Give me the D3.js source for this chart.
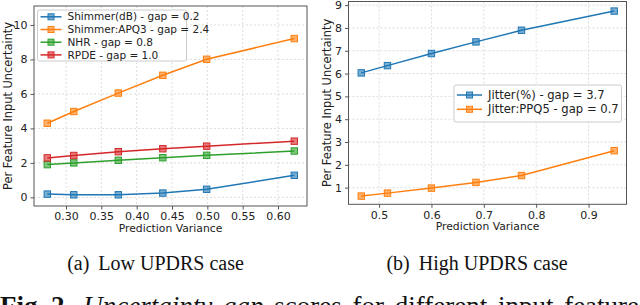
<!DOCTYPE html>
<html>
<head>
<meta charset="utf-8">
<script src="https://cdn.jsdelivr.net/npm/d3@7"></script>
<style>
  body { margin: 0; background: #fff; overflow: hidden; }
  svg text { font-family: "DejaVu Sans", sans-serif; }
</style>
</head>
<body>
<script>
// ---- data ----
const lowVariance = [0.2735, 0.311, 0.374, 0.437, 0.499, 0.623];
const lowShimmerDb = [0.19, 0.15, 0.15, 0.25, 0.47, 1.28];
const lowShimmerApq3 = [4.3, 4.98, 6.05, 7.08, 8.01, 9.21];
const lowNhr = [1.9, 2.0, 2.15, 2.3, 2.44, 2.69];
const lowRpde = [2.29, 2.43, 2.65, 2.82, 2.97, 3.26];
const lowNames = ['Shimmer(dB) - gap = 0.2', 'Shimmer:APQ3 - gap = 2.4', 'NHR - gap = 0.8', 'RPDE - gap = 1.0'];
const lowTicksX = [0.30, 0.35, 0.40, 0.45, 0.50, 0.55, 0.60];
const lowTicksY = [0, 2, 4, 6, 8, 10];

const highVariance = [0.466, 0.516, 0.600, 0.685, 0.772, 0.949];
const highJitter = [6.03, 6.35, 6.88, 7.39, 7.9, 8.74];
const highJitterPpq5 = [0.63, 0.76, 0.98, 1.23, 1.53, 2.62];
const highNames = ['Jitter(%) - gap = 3.7', 'Jitter:PPQ5 - gap = 0.7'];
const highTicksX = [0.5, 0.6, 0.7, 0.8, 0.9];
const highTicksY = [1, 2, 3, 4, 5, 6, 7, 8, 9];

const colors = ['#1f77b4', '#ff7f0e', '#2ca02c', '#d62728'];

const svg = d3.select('body').append('svg')
  .attr('width', 640)
  .attr('height', 305);

function panel(opt) {
  const x = d3.scaleLinear().domain(opt.xDomain).range([opt.left, opt.right]);
  const y = d3.scaleLinear().domain(opt.yDomain).range([opt.bottom, opt.top]);
  const g = svg.append('g');

  // grid
  g.selectAll('.gx').data(opt.ticksX).enter().append('line')
    .attr('x1', (d) => x(d)).attr('x2', (d) => x(d))
    .attr('y1', opt.top).attr('y2', opt.bottom)
    .attr('stroke', '#d4d4d4').attr('stroke-dasharray', '2,2').attr('stroke-width', 0.8);
  g.selectAll('.gy').data(opt.ticksY).enter().append('line')
    .attr('x1', opt.left).attr('x2', opt.right)
    .attr('y1', (d) => y(d)).attr('y2', (d) => y(d))
    .attr('stroke', '#d4d4d4').attr('stroke-dasharray', '2,2').attr('stroke-width', 0.8);

  // axes
  const ax = g.append('g').attr('transform', `translate(0,${opt.bottom})`)
    .call(d3.axisBottom(x).tickValues(opt.ticksX).tickFormat(d3.format(opt.fmtX)).tickSize(3.5).tickPadding(3));
  const ay = g.append('g').attr('transform', `translate(${opt.left},0)`)
    .call(d3.axisLeft(y).tickValues(opt.ticksY).tickFormat(d3.format('d')).tickSize(3.5).tickPadding(3));
  [ax, ay].forEach((a) => {
    a.select('.domain').remove();
    a.selectAll('line').attr('stroke', '#555');
    a.selectAll('text').attr('fill', '#222').style('font-size', '11px');
  });

  g.append('rect')
    .attr('x', opt.left).attr('y', opt.top)
    .attr('width', opt.right - opt.left).attr('height', opt.bottom - opt.top)
    .attr('fill', 'none').attr('stroke', '#555').attr('stroke-width', 1);

  // series
  const line = d3.line().x((d) => x(d[0])).y((d) => y(d[1]));
  opt.series.forEach((s, i) => {
    const pts = opt.xs.map((v, j) => [v, s[j]]);
    g.append('path').datum(pts).attr('d', line)
      .attr('fill', 'none').attr('stroke', colors[i]).attr('stroke-width', 1.5);
    g.selectAll(null).data(pts).enter().append('rect')
      .attr('x', (d) => x(d[0]) - 3.2).attr('y', (d) => y(d[1]) - 3.2)
      .attr('width', 6.4).attr('height', 6.4)
      .attr('fill', colors[i]).attr('fill-opacity', 0.6)
      .attr('stroke', colors[i]).attr('stroke-width', 1);
  });

  // axis titles
  g.append('text')
    .attr('x', (opt.left + opt.right) / 2).attr('y', opt.bottom + 26)
    .attr('text-anchor', 'middle').style('font-size', '10.8px').attr('fill', '#222')
    .text('Prediction Variance');
  g.append('text')
    .attr('transform', `translate(${opt.yTitleX},${(opt.top + opt.bottom) / 2}) rotate(-90)`)
    .attr('text-anchor', 'middle').attr('dy', '0.35em').style('font-size', '11.4px').attr('fill', '#222')
    .text('Per Feature Input Uncertainty');

  // legend
  const L = opt.legend;
  const lg = g.append('g');
  lg.append('rect')
    .attr('x', L.x).attr('y', L.y).attr('width', L.w).attr('height', L.h).attr('rx', 2)
    .attr('fill', '#fff').attr('fill-opacity', 0.85).attr('stroke', '#ccc');
  opt.names.forEach((n, i) => {
    const cy = L.y + L.first + i * L.step;
    lg.append('line').attr('x1', L.x + 3).attr('x2', L.x + 3 + L.handle)
      .attr('y1', cy).attr('y2', cy).attr('stroke', colors[i]).attr('stroke-width', 1.5);
    lg.append('rect').attr('x', L.x + 3 + L.handle / 2 - 3).attr('y', cy - 3)
      .attr('width', 6).attr('height', 6)
      .attr('fill', colors[i]).attr('fill-opacity', 0.6).attr('stroke', colors[i]);
    lg.append('text').attr('x', L.x + L.handle + 9).attr('y', cy).attr('dy', '0.35em')
      .style('font-size', L.font + 'px').attr('fill', '#222').text(n);
  });
}

panel({
  left: 34, right: 307, top: 6, bottom: 206, yTitleX: 7.5,
  xDomain: [0.2547, 0.641], yDomain: [-0.5, 11.1],
  ticksX: lowTicksX, ticksY: lowTicksY, fmtX: '.2f',
  xs: lowVariance, series: [lowShimmerDb, lowShimmerApq3, lowNhr, lowRpde],
  names: lowNames,
  legend: {x: 37.5, y: 10, w: 149, h: 51, first: 6.8, step: 12.7, handle: 21, font: 10.5}
});

panel({
  left: 348.5, right: 626.5, top: 1.5, bottom: 204.3, yTitleX: 327,
  xDomain: [0.4416, 0.9725], yDomain: [0.27, 9.16],
  ticksX: highTicksX, ticksY: highTicksY, fmtX: '.1f',
  xs: highVariance, series: [highJitter, highJitterPpq5],
  names: highNames,
  legend: {x: 454, y: 85, w: 167.5, h: 37, first: 10, step: 14.3, handle: 25, font: 11.6}
});

// captions
function caption(cx, tag, words) {
  const t = svg.append('text').attr('x', cx).attr('y', 269.5).attr('text-anchor', 'middle')
    .style('font-family', '"Liberation Serif", "Times New Roman", serif').style('font-size', '20px')
    .attr('fill', '#111');
  t.append('tspan').text(tag);
  t.append('tspan').attr('dx', 9).text(words);
}
caption(155.5, '(a)', 'Low UPDRS case');
caption(477, '(b)', 'High UPDRS case');

const fig = svg.append('text').attr('x', 0).attr('y', 315)
  .style('font-family', '"Liberation Serif", "Times New Roman", serif').style('font-size', '27px')
  .attr('fill', '#111');
fig.append('tspan').style('font-weight', 'bold').text('Fig. 2.');
fig.append('tspan').attr('dx', 12).style('font-style', 'italic').style('word-spacing', '4px')
  .text('Uncertainty gap');
fig.append('tspan').style('word-spacing', '4px').text(' scores for different input features');
</script>
</body>
</html>
